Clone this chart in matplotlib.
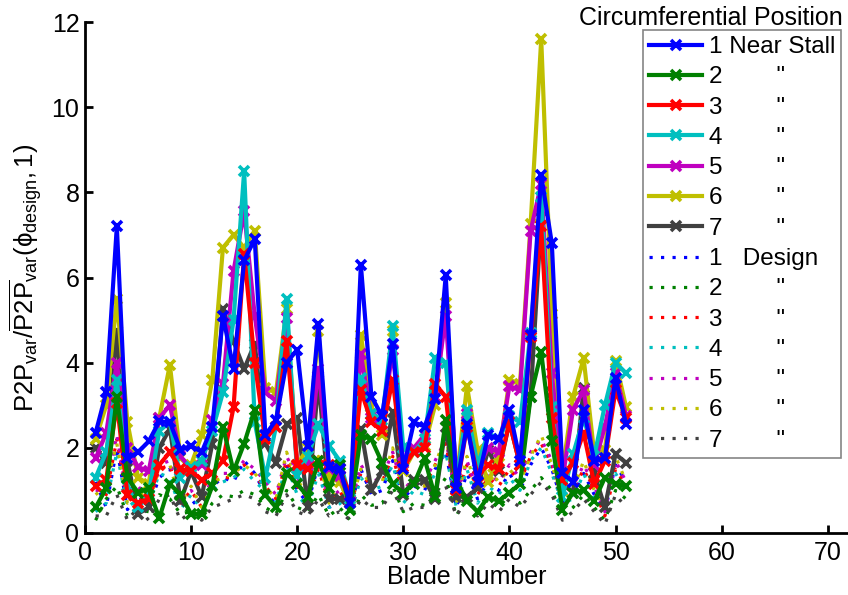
import numpy as np
import matplotlib
matplotlib.use("Agg")
import matplotlib.pyplot as plt

plt.rcParams['font.family'] = ['Liberation Sans', 'DejaVu Sans']
plt.rcParams['mathtext.fontset'] = 'custom'
plt.rcParams['mathtext.rm'] = 'Liberation Sans'
plt.rcParams['mathtext.it'] = 'Liberation Sans:italic'

blade = np.arange(1, 52)

# Near-stall peak-to-peak variation, circumferential positions 1-7
ns1 = [2.35, 3.3, 7.2, 1.75, 1.9, 2.15, 2.62, 2.6, 1.95, 2.05, 1.9, 2.5, 5.1, 3.85, 6.4, 6.9, 2.3,
       2.65, 4.0, 4.3, 2.05, 4.9, 1.55, 1.5, 0.7, 6.3, 3.2, 2.75, 4.45, 1.5, 2.6, 2.5, 3.15, 6.05,
       1.05, 2.55, 1.2, 2.3, 2.2, 2.9, 1.7, 4.65, 8.4, 6.8, 1.4, 1.2, 2.9, 1.7, 1.75, 3.65, 2.55]
ns2 = [0.6, 1.05, 3.2, 1.3, 0.95, 1.05, 0.35, 1.15, 0.9, 0.45, 0.45, 1.1, 2.5, 1.45, 2.1, 2.9, 0.9,
       0.6, 1.4, 1.15, 0.85, 1.7, 1.05, 1.6, 0.55, 2.3, 2.2, 1.65, 1.15, 0.95, 1.15, 1.75, 0.85, 2.65,
       1.25, 0.75, 0.5, 0.85, 0.75, 0.95, 1.15, 3.2, 4.25, 2.15, 0.55, 0.95, 1.0, 0.75, 1.3, 1.15, 1.1]
ns3 = [1.1, 1.25, 3.05, 0.9, 0.7, 0.8, 1.6, 1.9, 1.5, 1.45, 1.25, 1.4, 1.7, 2.95, 6.55, 4.0, 2.2,
       2.5, 4.5, 1.6, 1.5, 1.7, 1.6, 1.5, 0.9, 3.35, 2.6, 2.4, 3.6, 1.55, 1.9, 2.0, 3.5, 3.2,
       1.0, 2.5, 1.35, 1.6, 1.5, 2.6, 1.6, 4.6, 7.2, 2.7, 1.25, 1.65, 2.35, 1.15, 1.7, 3.35, 2.7]
ns4 = [1.3, 1.9, 3.6, 1.1, 0.6, 0.9, 2.4, 2.6, 1.3, 1.55, 1.7, 2.4, 3.3, 5.0, 8.5, 2.6, 1.3,
       2.5, 5.5, 1.35, 1.8, 2.55, 2.05, 1.7, 0.8, 3.65, 2.8, 2.65, 4.85, 2.0, 1.9, 2.2, 4.1, 4.0,
       1.2, 2.9, 1.6, 2.35, 2.2, 2.75, 2.6, 4.7, 7.9, 2.95, 0.85, 1.85, 2.7, 1.8, 3.0, 4.0, 3.75]
ns5 = [1.75, 2.35, 4.0, 2.0, 1.55, 1.45, 2.7, 3.0, 1.8, 1.5, 1.6, 2.65, 3.5, 6.15, 7.55, 5.1, 3.3,
       3.1, 5.05, 1.55, 1.6, 3.85, 1.5, 1.35, 0.75, 4.2, 2.7, 2.55, 4.3, 1.65, 2.0, 2.3, 3.2, 5.1,
       1.3, 2.8, 1.5, 2.0, 1.9, 3.45, 3.35, 7.1, 8.2, 3.75, 1.25, 2.9, 3.35, 1.6, 2.5, 3.75, 2.75]
ns6 = [2.2, 3.0, 5.5, 2.6, 1.3, 1.15, 2.7, 3.95, 1.75, 1.6, 2.3, 3.6, 6.7, 7.0, 6.7, 7.1, 3.4,
       3.3, 5.25, 1.6, 2.0, 4.75, 1.3, 1.2, 0.7, 4.65, 2.95, 2.3, 4.75, 1.45, 1.9, 2.05, 3.0, 5.4,
       1.2, 3.45, 1.95, 1.2, 1.8, 3.6, 3.5, 7.25, 11.6, 5.15, 1.45, 3.2, 4.1, 1.85, 1.95, 4.05, 2.95]
ns7 = [2.0, 1.65, 4.75, 1.7, 0.45, 0.6, 2.0, 2.45, 0.75, 1.45, 0.85, 2.1, 5.25, 4.5, 3.85, 4.45, 2.1,
       1.65, 2.55, 2.7, 0.6, 3.6, 0.8, 0.8, 0.85, 2.45, 1.0, 1.45, 2.85, 0.9, 1.25, 1.25, 0.8, 2.5,
       0.85, 0.85, 1.05, 1.95, 1.45, 2.6, 1.6, 3.2, 7.4, 3.3, 1.15, 0.95, 3.4, 1.4, 0.6, 1.85, 1.65]

# Design-point peak-to-peak variation, circumferential positions 1-7
d1 = [1.2, 0.6, 2.0, 0.55, 0.9, 0.6, 1.3, 1.5, 0.6, 0.8, 0.5, 1.1, 1.3, 1.2, 1.7, 1.4, 0.9,
      0.7, 1.6, 1.0, 0.7, 1.6, 0.6, 0.8, 0.6, 1.5, 0.9, 1.0, 1.7, 0.8, 1.1, 1.0, 1.5, 1.9,
      0.6, 1.4, 0.8, 1.2, 1.0, 1.4, 1.0, 1.6, 2.0, 1.5, 0.7, 0.9, 1.4, 0.9, 0.5, 1.6, 1.2]
d2 = [0.3, 0.8, 1.1, 0.4, 0.55, 0.5, 0.9, 0.8, 0.45, 0.5, 0.35, 0.7, 0.9, 0.85, 1.0, 0.9, 0.6,
      0.45, 1.0, 0.6, 0.5, 0.9, 0.4, 0.6, 0.3, 0.9, 0.65, 0.7, 1.1, 0.5, 0.7, 0.65, 0.9, 1.3,
      0.4, 0.9, 0.45, 0.8, 0.6, 0.9, 0.7, 1.0, 1.3, 1.0, 0.4, 0.6, 0.9, 0.6, 0.3, 1.0, 0.8]
d3 = [1.1, 0.9, 2.2, 0.7, 1.0, 0.7, 1.5, 1.6, 0.7, 1.0, 0.6, 1.2, 1.3, 1.3, 1.6, 1.3, 1.1,
      0.8, 1.7, 1.1, 0.8, 1.5, 0.7, 1.0, 0.5, 1.4, 1.1, 1.2, 1.8, 0.9, 1.2, 1.1, 1.6, 2.1,
      0.8, 1.6, 0.9, 1.3, 1.1, 1.5, 1.2, 1.8, 2.1, 1.6, 0.6, 1.0, 1.5, 1.0, 0.4, 1.5, 1.1]
d4 = [0.5, 0.7, 1.9, 0.6, 0.8, 0.65, 1.4, 1.3, 0.55, 0.9, 0.55, 1.0, 1.2, 1.3, 1.5, 1.2, 1.0,
      0.7, 1.6, 0.9, 0.6, 1.4, 0.6, 0.7, 0.4, 1.3, 1.0, 1.1, 1.6, 0.7, 1.0, 0.9, 1.4, 1.9,
      0.6, 1.5, 0.7, 1.1, 0.9, 1.3, 1.0, 1.7, 2.0, 1.4, 0.7, 0.8, 1.4, 0.8, 0.7, 1.4, 1.0]
d5 = [1.0, 1.0, 2.3, 0.8, 1.1, 0.8, 1.6, 1.7, 0.8, 1.0, 0.7, 1.3, 1.4, 1.4, 1.7, 1.5, 1.2,
      0.9, 1.8, 1.3, 0.9, 1.7, 0.8, 1.0, 0.6, 1.6, 1.2, 1.3, 1.9, 1.0, 1.3, 1.2, 1.7, 2.2,
      0.8, 1.7, 1.0, 1.4, 1.2, 1.6, 1.3, 1.9, 2.2, 1.7, 0.8, 1.1, 1.6, 1.1, 0.5, 1.7, 1.2]
d6 = [0.9, 1.1, 2.1, 0.7, 1.0, 0.75, 1.5, 1.6, 0.7, 1.1, 0.6, 1.2, 1.3, 1.4, 1.6, 1.4, 1.1,
      0.8, 1.9, 1.2, 1.0, 1.8, 0.7, 1.2, 0.6, 1.5, 1.1, 1.2, 2.0, 0.9, 1.3, 1.1, 1.6, 2.3,
      0.7, 1.8, 0.9, 1.5, 1.2, 1.5, 1.2, 1.8, 2.3, 1.6, 0.8, 1.0, 1.7, 1.0, 0.6, 1.8, 1.2]
d7 = [0.4, 0.4, 0.9, 0.3, 0.6, 0.3, 0.8, 0.9, 0.3, 0.5, 0.3, 0.6, 0.7, 0.8, 0.9, 0.8, 0.5,
      0.4, 0.9, 0.5, 0.4, 0.8, 0.4, 0.5, 0.3, 0.8, 0.6, 0.6, 1.0, 0.5, 0.6, 0.6, 0.9, 1.1,
      0.4, 0.8, 0.4, 0.7, 0.5, 0.8, 0.6, 0.9, 1.2, 0.9, 0.3, 0.5, 0.8, 0.5, 0.2, 0.9, 0.6]

near_stall = [ns1, ns2, ns3, ns4, ns5, ns6, ns7]
design = [d1, d2, d3, d4, d5, d6, d7]

colors = [(0, 0, 1), (0, 0.5, 0), (1, 0, 0), (0, 0.75, 0.75),
          (0.75, 0, 0.75), (0.75, 0.75, 0), (0.25, 0.25, 0.25)]
ns_labels = ['1 Near Stall'] + [f'{i}        "' for i in range(2, 8)]
d_labels = ['1   Design'] + [f'{i}        "' for i in range(2, 8)]

fig = plt.figure(figsize=(8.48, 5.95), dpi=100)
ax = fig.add_axes([85 / 848, 62 / 595, 763 / 848, 511 / 595])

handles = []
for i, (vals, c, lab) in enumerate(zip(near_stall, colors, ns_labels)):
    h, = ax.plot(blade, vals, '-', color=c, lw=3, marker='x', ms=7.5, mew=2.6,
                 label=lab, zorder=10 - i)
    handles.append(h)
for i, (vals, c, lab) in enumerate(zip(design, colors, d_labels)):
    h, = ax.plot(blade, vals, color=c, lw=2.3, linestyle=(0, (1, 2.6)),
                 label=lab, zorder=2)
    handles.append(h)

ax.set_xlim(0, 763 / 10.61)
ax.set_ylim(0, 12)
ax.set_xticks(range(0, 71, 10))
ax.set_yticks(range(0, 13, 2))
ax.spines['top'].set_visible(False)
ax.spines['right'].set_visible(False)
for s in ('left', 'bottom'):
    ax.spines[s].set_linewidth(2)
ax.tick_params(direction='in', length=6, width=2, labelsize=18)
ax.tick_params(axis='x', pad=6)
ax.tick_params(axis='y', pad=4)

ax.set_xlabel('Blade Number', fontsize=18, labelpad=0)
ax.set_ylabel(r'$\mathrm{P2P_{var}/\overline{P2P}_{var}(\phi_{design},1)}$',
              fontsize=18.5, labelpad=5)

leg = fig.legend(handles=handles, loc='upper right',
                 bbox_to_anchor=(841 / 848, 1 - 30 / 595), fontsize=17.5,
                 frameon=True, fancybox=False, borderpad=0.25, labelspacing=0.34,
                 handlelength=2.2, handletextpad=0.25, borderaxespad=0)
leg.get_frame().set_edgecolor((0.4, 0.4, 0.4))
leg.get_frame().set_linewidth(1.2)
fig.text(843 / 848, 1 - 18 / 595, 'Circumferential Position', ha='right',
         va='center', fontsize=18)

fig.savefig('out.png', dpi=100)
